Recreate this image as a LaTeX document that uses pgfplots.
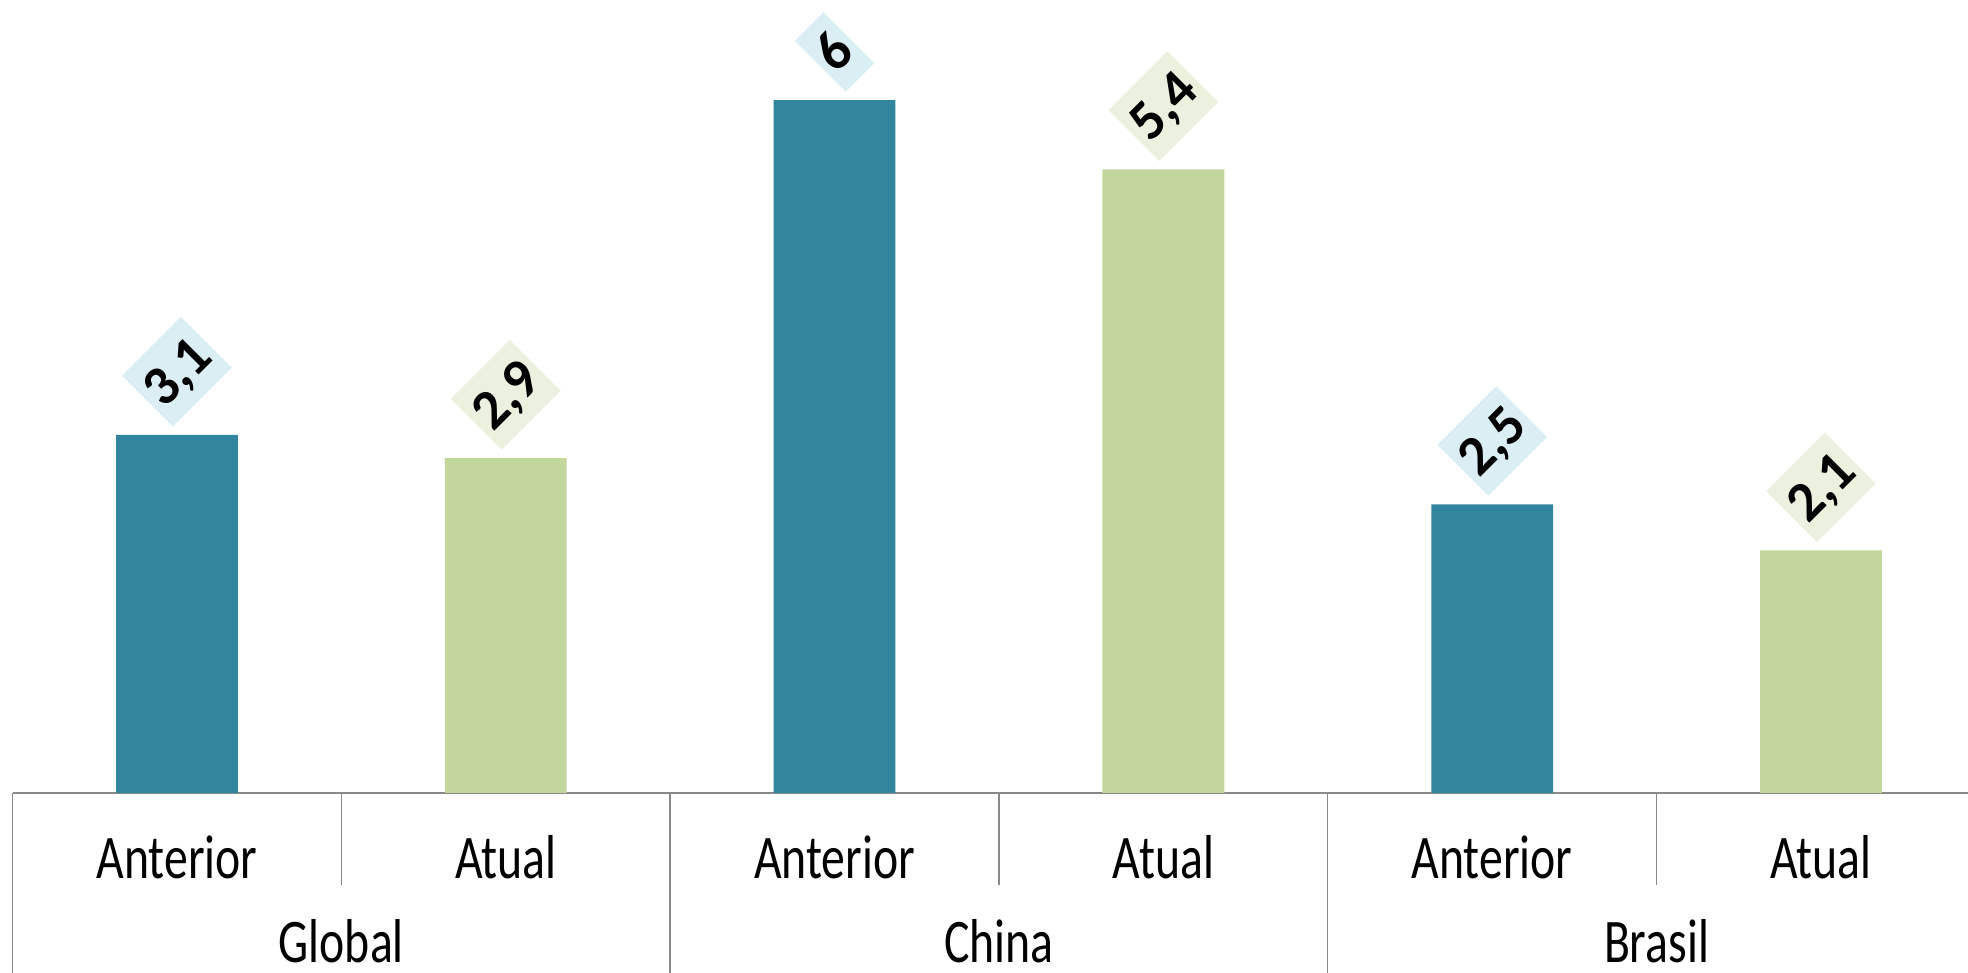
\documentclass[border=0pt]{standalone}
\usepackage{fontspec}
\setmainfont{Carlito}
\newfontfamily\tickfont{Carlito}[FakeStretch=0.77]
\usepackage{graphicx}
\usepackage{pgfplots}
\pgfplotsset{compat=1.18}
\definecolor{barblue}{HTML}{31859C}
\definecolor{bargreen}{HTML}{C3D69B}
\definecolor{lblblue}{HTML}{DAEEF3}
\definecolor{lblgreen}{HTML}{EBF1DE}
\definecolor{axgray}{HTML}{898989}
\newcommand{\lbl}[2]{\rotatebox{45}{\setlength{\fboxsep}{3pt}\colorbox{#1}{\rule[-6.2pt]{0pt}{30pt}\bfseries\fontsize{28}{32}\selectfont #2}}}
\begin{document}
\begin{tikzpicture}
\useasboundingbox (0,0) rectangle (984pt,486.5pt);
\clip (0,0) rectangle (984pt,486.5pt);
\begin{axis}[
  at={(6.27pt,90pt)}, anchor=south west,
  scale only axis, width=986.4pt, height=396.7pt,
  xmin=-0.5, xmax=5.5, ymin=0, ymax=6.87,
  axis y line=none, axis x line*=bottom,
  x axis line style={axgray, line width=0.7pt},
  xtick={0,...,5},
  xticklabels={Anterior,Atual,Anterior,Atual,Anterior,Atual},
  major tick length=0pt,
  xticklabel style={anchor=center, yshift=-32pt, font=\tickfont\fontsize{31}{36}\selectfont},
  ybar, bar width=60.9pt, bar shift=0pt,
  clip=false,
  /pgf/number format/use comma,
  /pgf/number format/assume math mode=true,
  every node near coord/.append style={anchor=south, inner sep=0pt, yshift=4pt, text=black},
]
\addplot[fill=barblue, draw=none,
  nodes near coords={\lbl{lblblue}{\pgfmathprintnumber{\pgfplotspointmeta}}}]
  coordinates {(0,3.1) (2,6) (4,2.5)};
\addplot[fill=bargreen, draw=none,
  nodes near coords={\lbl{lblgreen}{\pgfmathprintnumber{\pgfplotspointmeta}}}]
  coordinates {(1,2.9) (3,5.4) (5,2.1)};
\pgfplotsinvokeforeach{-0.5,1.5,3.5,5.5}{
  \draw[axgray, line width=0.7pt] (axis cs:#1,0) -- ([yshift=-120pt]axis cs:#1,0);
}
\pgfplotsinvokeforeach{0.5,2.5,4.5}{
  \draw[axgray, line width=0.7pt] (axis cs:#1,0) -- ([yshift=-46pt]axis cs:#1,0);
}
\node[inner sep=0pt, font=\tickfont\fontsize{31}{36}\selectfont] at ([yshift=-74pt]axis cs:0.5,0) {Global};
\node[inner sep=0pt, font=\tickfont\fontsize{31}{36}\selectfont] at ([yshift=-74pt]axis cs:2.5,0) {China};
\node[inner sep=0pt, font=\tickfont\fontsize{31}{36}\selectfont] at ([yshift=-74pt]axis cs:4.5,0) {Brasil};
\end{axis}
\end{tikzpicture}
\end{document}
